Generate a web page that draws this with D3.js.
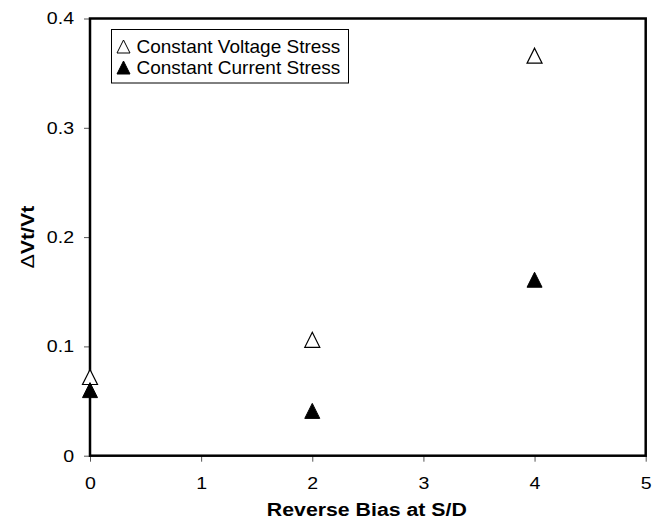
<!DOCTYPE html>
<html>
<head>
<meta charset="utf-8">
<script src="https://cdn.jsdelivr.net/npm/d3@7"></script>
<style>
  html, body { margin: 0; padding: 0; background: #fff; }
  svg { display: block; font-family: "Liberation Sans", Arial, sans-serif; }
</style>
</head>
<body>
<svg id="chart" width="662" height="527"></svg>
<script>
// ---- data ----
const xValues = [0, 2, 4];
const voltageStress = [0.072, 0.106, 0.366];
const currentStress = [0.060, 0.041, 0.161];
const xTicks = [0, 1, 2, 3, 4, 5];
const xTickLabels = ["0", "1", "2", "3", "4", "5"];
const yTicks = [0, 0.1, 0.2, 0.3, 0.4];
const yTickLabels = ["0", "0.1", "0.2", "0.3", "0.4"];
const seriesNames = ["Constant Voltage Stress", "Constant Current Stress"];
const xTitle = "Reverse Bias at S/D";
const yTitleDelta = "\u0394";
const yTitleRest = "Vt/Vt";

// ---- layout ----
const svg = d3.select("#chart");
const plot = { left: 90, right: 645.7, top: 18.5, bottom: 455.7 };

const x = d3.scaleLinear().domain([0, 5]).range([plot.left, plot.right]);
const y = d3.scaleLinear().domain([0, 0.4]).range([plot.bottom, plot.top]);

svg.append("rect").attr("width", 662).attr("height", 527).attr("fill", "#fff");

// axes (ticks + labels)
const xAxis = d3.axisBottom(x).tickValues(xTicks)
  .tickFormat((d, i) => xTickLabels[i]).tickSizeInner(6).tickSizeOuter(0).tickPadding(15);
const yAxis = d3.axisLeft(y).tickValues(yTicks)
  .tickFormat((d, i) => yTickLabels[i]).tickSizeInner(6).tickSizeOuter(0).tickPadding(10);

const gx = svg.append("g").attr("transform", `translate(0,${plot.bottom})`).call(xAxis);
const gy = svg.append("g").attr("transform", `translate(${plot.left},0)`).call(yAxis);

[gx, gy].forEach(g => {
  g.select(".domain").remove();
  g.selectAll(".tick line").attr("stroke", "#555").attr("stroke-width", 1);
  g.selectAll(".tick text")
    .attr("fill", "#000")
    .style("font-size", "17px")
    .style("font-family", "'Liberation Sans', Arial, sans-serif");
});
gx.selectAll(".tick text").attr("dy", "0.71em");
[gx, gy].forEach(g => {
  g.selectAll(".tick text").each(function () {
    const w = this.getComputedTextLength();
    d3.select(this).attr("textLength", w * 1.15).attr("lengthAdjust", "spacingAndGlyphs");
  });
});

// plot frame
svg.append("rect")
  .attr("x", plot.left).attr("y", plot.top)
  .attr("width", plot.right - plot.left).attr("height", plot.bottom - plot.top)
  .attr("fill", "none").attr("stroke", "#000").attr("stroke-width", 2.5);

// markers
const half = 7.5;
function triPath(cx, cy, h) {
  return `M${cx},${cy - h}L${cx + h},${cy + h}L${cx - h},${cy + h}Z`;
}
svg.append("g").selectAll("path")
  .data(xValues.map((d, i) => [d, voltageStress[i]]))
  .join("path")
  .attr("d", d => triPath(x(d[0]), y(d[1]), half))
  .attr("fill", "#fff").attr("stroke", "#000").attr("stroke-width", 1.2);
svg.append("g").selectAll("path")
  .data(xValues.map((d, i) => [d, currentStress[i]]))
  .join("path")
  .attr("d", d => triPath(x(d[0]), y(d[1]), half))
  .attr("fill", "#000").attr("stroke", "#000").attr("stroke-width", 1);

// legend
const lg = svg.append("g");
lg.append("rect").attr("x", 111.5).attr("y", 29.5).attr("width", 237).attr("height", 53.5)
  .attr("fill", "#fff").attr("stroke", "#000").attr("stroke-width", 1);
const legRows = [
  { name: seriesNames[0], fill: "#fff", baseline: 53.3 },
  { name: seriesNames[1], fill: "#000", baseline: 74.3 }
];
legRows.forEach(r => {
  lg.append("path")
    .attr("d", triPath(123.5, r.baseline - 6.8, 6.5))
    .attr("fill", r.fill).attr("stroke", "#000").attr("stroke-width", 1);
  lg.append("text").attr("x", 136.5).attr("y", r.baseline)
    .style("font-size", "19px").attr("fill", "#000").text(r.name);
});

// axis titles
svg.append("text")
  .attr("x", (plot.left + plot.right) / 2 - 1).attr("y", 515.5)
  .attr("text-anchor", "middle")
  .style("font-size", "17.5px").style("font-weight", "bold")
  .attr("textLength", 200).attr("lengthAdjust", "spacingAndGlyphs")
  .text(xTitle);

const yt = svg.append("text")
  .attr("transform", `translate(33.5,${(plot.top + plot.bottom) / 2}) rotate(-90)`)
  .attr("text-anchor", "middle")
  .style("font-size", "18px").style("font-weight", "bold")
  .attr("textLength", 63).attr("lengthAdjust", "spacingAndGlyphs");
yt.append("tspan").style("font-weight", "normal").text(yTitleDelta);
yt.append("tspan").text(yTitleRest);
</script>
</body>
</html>
